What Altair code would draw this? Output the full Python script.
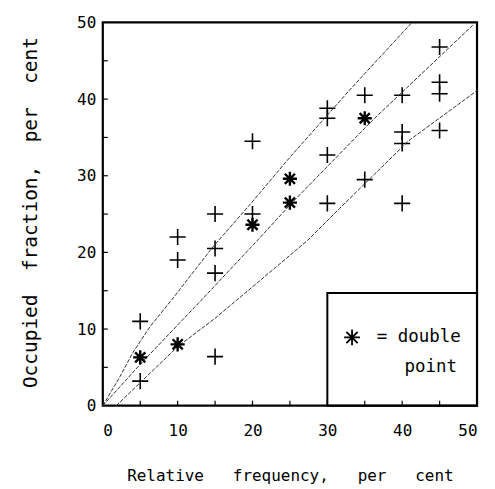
import altair as alt
import pandas as pd

# single points (+)
plus_x = [5, 5, 10, 10, 15, 15, 15, 15, 20, 20, 30, 30, 30, 30, 35, 35, 40, 40, 40, 40, 45, 45, 45, 45]
plus_y = [11, 3.2, 22, 19, 25, 20.5, 17.3, 6.4, 34.5, 25, 38.8, 37.5, 32.7, 26.4, 40.5, 29.5, 40.5, 35.7, 34.2, 26.4, 46.8, 42.2, 40.7, 35.9]
# double points (*)
dbl_x = [5, 10, 20, 25, 25, 35]
dbl_y = [6.3, 8.0, 23.6, 29.6, 26.5, 37.5]

# curves
upper_x = [0, 2.3, 4, 6.3, 9.2, 14.7, 19.8, 24.9, 32.9, 41.3]
upper_y = [0, 3.8, 6.9, 10.3, 13.8, 20.7, 26.4, 32.3, 41.1, 50]
middle_x = [0, 5, 13.2, 20.5, 25.4, 36, 49.6]
middle_y = [0, 5.4, 13.8, 21.4, 26.6, 37.2, 49.8]
lower_x = [1.8, 10, 15, 20, 27.4, 31.6, 40.9, 50]
lower_y = [0, 7.7, 11.4, 15.5, 21.6, 25.7, 34.6, 41.1]

tick_vals = [5, 10, 15, 20, 25, 30, 35, 40, 45]
label_vals = [0, 10, 20, 30, 40, 50]

legend_box = {"x": 30, "x2": 50, "y": 0, "y2": 14.7}
legend_sym = {"x": 33.3, "y": 8.9}
legend_text = [
    {"x": 36.6, "y": 8.9, "t": "=\u00a0double"},
    {"x": 40.3, "y": 5.0, "t": "point"},
]

W, H = 375, 384
FONT = "DejaVu Sans Mono"
SP3 = "\u00a0\u00a0\u00a0"
SP2 = "\u00a0\u00a0"

xs = alt.Scale(domain=[0, 50], nice=False, zero=False)
ys = alt.Scale(domain=[0, 50], nice=False, zero=False)

xax = alt.Axis(values=label_vals, ticks=False, domain=False, grid=False,
               labelFont=FONT, labelFontSize=16, labelPadding=17, labelColor="black",
               title="Relative" + SP3 + "frequency," + SP3 + "per" + SP3 + "cent",
               titleFont=FONT, titleFontSize=16, titleFontWeight="normal", titlePadding=29, titleColor="black")
yax = alt.Axis(values=label_vals, ticks=False, domain=False, grid=False,
               labelFont=FONT, labelFontSize=16, labelPadding=7, labelColor="black",
               title="Occupied" + SP2 + "fraction," + SP2 + "per" + SP2 + "cent",
               titleFont=FONT, titleFontSize=19.5, titleFontWeight="normal", titleColor="black",
               titleX=-72, titleY=H / 2 - 2, titleAngle=270, titleAlign="center", titleBaseline="middle")

pts_plus = pd.DataFrame({"x": plus_x, "y": plus_y})
pts_dbl = pd.DataFrame({"x": dbl_x, "y": dbl_y})

curves = pd.concat([
    pd.DataFrame({"x": upper_x, "y": upper_y, "c": "upper"}),
    pd.DataFrame({"x": middle_x, "y": middle_y, "c": "middle"}),
    pd.DataFrame({"x": lower_x, "y": lower_y, "c": "lower"}),
])

PLUS = "M-1,0L1,0M0,-1L0,1"
STAR = "M-1,0L1,0M0,-1L0,1M-0.72,-0.72L0.72,0.72M-0.72,0.72L0.72,-0.72"

base_axes = alt.Chart(pts_plus).mark_point(shape=PLUS, size=260, stroke="black",
                                           strokeWidth=1.6, filled=False, opacity=1).encode(
    x=alt.X("x:Q", scale=xs, axis=xax),
    y=alt.Y("y:Q", scale=ys, axis=yax),
)

lines = alt.Chart(curves).mark_line(color="#333333", strokeWidth=1, strokeDash=[4, 1.5]).encode(
    x=alt.X("x:Q", scale=xs),
    y=alt.Y("y:Q", scale=ys),
    detail="c:N",
)

stars = alt.Chart(pts_dbl).mark_point(shape=STAR, size=200, stroke="black",
                                      strokeWidth=2.4, filled=False, opacity=1).encode(
    x=alt.X("x:Q", scale=xs),
    y=alt.Y("y:Q", scale=ys),
)

box = alt.Chart(pd.DataFrame([legend_box])).mark_rect(fillOpacity=0, stroke="black", strokeWidth=2).encode(
    x=alt.X("x:Q", scale=xs), x2="x2:Q",
    y=alt.Y("y:Q", scale=ys), y2="y2:Q",
)

lsym = alt.Chart(pd.DataFrame([legend_sym])).mark_point(shape=STAR, size=250, stroke="black",
                                                        strokeWidth=1.8, filled=False, opacity=1).encode(
    x=alt.X("x:Q", scale=xs),
    y=alt.Y("y:Q", scale=ys),
)

ltext = alt.Chart(pd.DataFrame(legend_text)).mark_text(align="left", baseline="middle",
                                                       font=FONT, fontSize=17.5, color="black").encode(
    x=alt.X("x:Q", scale=xs),
    y=alt.Y("y:Q", scale=ys),
    text="t:N",
)

ticks_df = pd.DataFrame({"v": tick_vals})
xticks = alt.Chart(ticks_df).mark_rule(color="black", strokeWidth=1.2).encode(
    x=alt.X("v:Q", scale=xs),
    y=alt.value(H), y2=alt.value(H - 5),
)
yticks = alt.Chart(ticks_df).mark_rule(color="black", strokeWidth=1.2).encode(
    y=alt.Y("v:Q", scale=ys),
    x=alt.value(0), x2=alt.value(5),
)

chart = alt.layer(base_axes, lines, box, stars, lsym, ltext, xticks, yticks).properties(
    width=W, height=H,
    autosize=alt.AutoSizeParams(type="none"),
    padding={"left": 95, "top": 14, "right": 10, "bottom": 81},
    background="white",
).configure_view(stroke="black", strokeWidth=2.2)

chart.save("out.html", embed_options={"renderer": "svg", "actions": False})
